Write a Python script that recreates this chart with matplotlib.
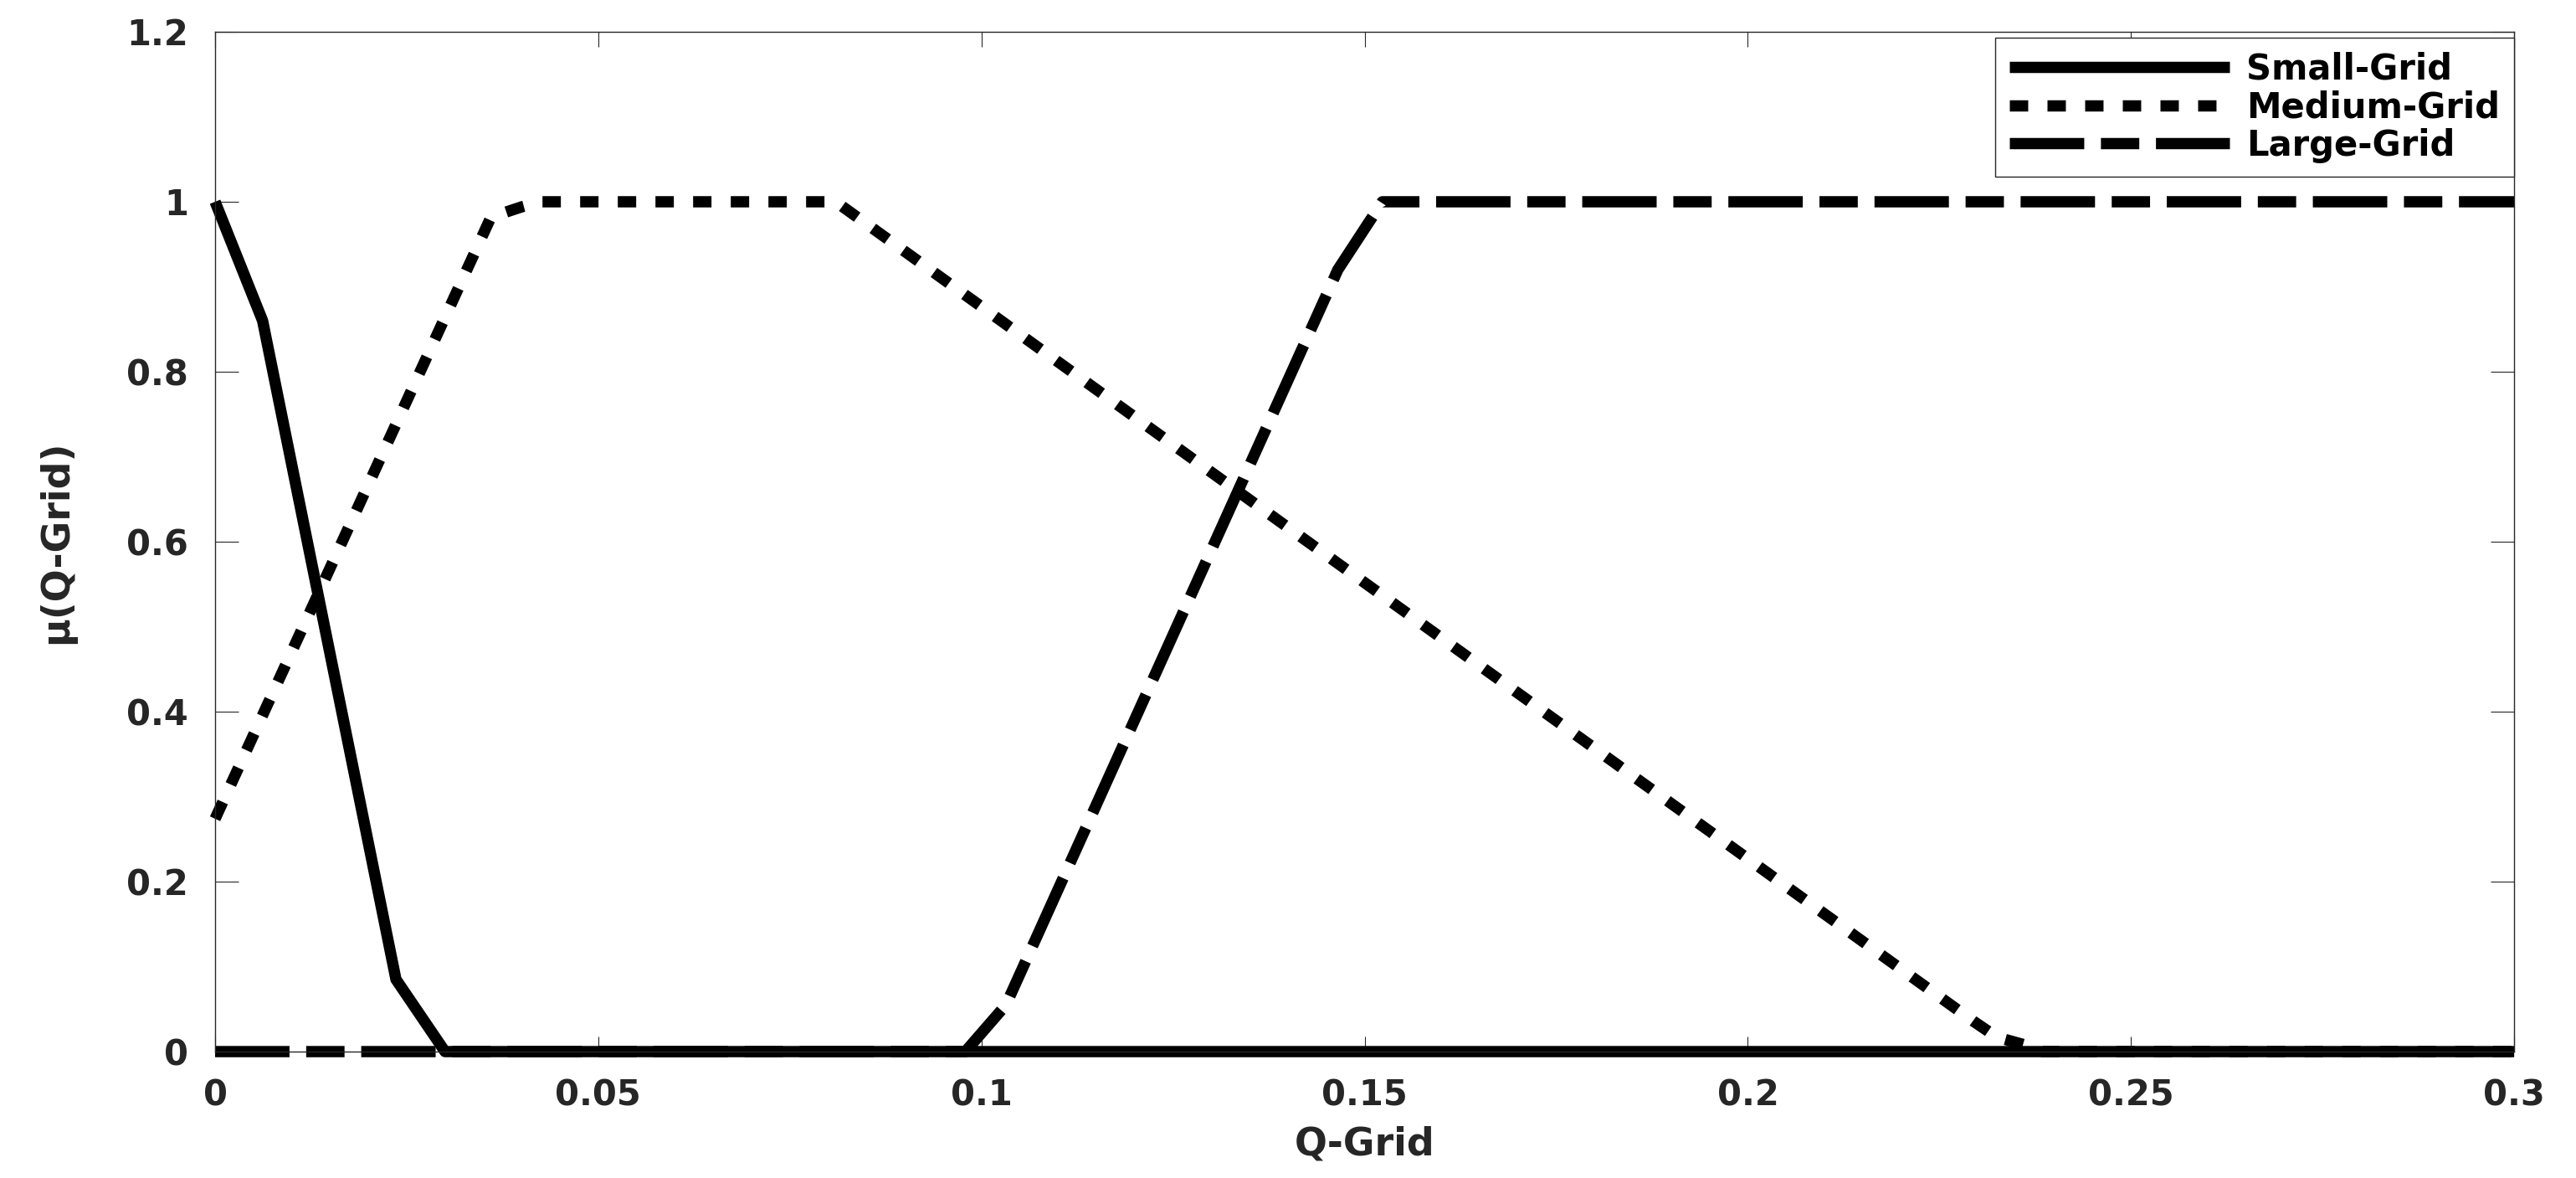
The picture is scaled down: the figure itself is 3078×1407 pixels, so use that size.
import matplotlib
matplotlib.use("Agg")
import matplotlib.pyplot as plt
from matplotlib.ticker import FormatStrFormatter

# membership curves
small_x = [0, 0.0062, 0.0236, 0.0300, 0.3]
small_y = [1, 0.86, 0.085, 0, 0]

medium_x = [0, 0.036, 0.040, 0.0425, 0.081, 0.2294, 0.2325, 0.2369, 0.2385, 0.3]
medium_y = [0.274, 0.982, 0.994, 1, 1, 0.036, 0.017, 0.006, 0, 0]

large_x = [0, 0.0979, 0.1032, 0.1465, 0.1523, 0.3]
large_y = [0, 0, 0.055, 0.92, 1, 1]

labels = ["Small-Grid", "Medium-Grid", "Large-Grid"]
xticks = [0, 0.05, 0.1, 0.15, 0.2, 0.25, 0.3]
yticks = [0, 0.2, 0.4, 0.6, 0.8, 1, 1.2]

dark = "#262626"
plt.rcParams["font.family"] = ["DejaVu Sans"]
plt.rcParams["font.weight"] = "bold"

fig = plt.figure(figsize=(30.78, 14.07), dpi=100)
ax = fig.add_axes([0.0835, 0.1073, 0.8925, 0.8657])

lw = 9.7
ax.plot(small_x, small_y, color="black", lw=lw, ls="-", clip_on=False,
        solid_capstyle="butt", solid_joinstyle="round", label=labels[0])
ax.plot(medium_x, medium_y, color="black", lw=lw, ls=(0, (1.63, 1.71)),
        clip_on=False, dash_capstyle="butt", label=labels[1])
ax.plot(large_x, large_y, color="black", lw=lw, ls=(0, (6.6, 1.48, 3.4, 1.48)),
        clip_on=False, dash_capstyle="butt", label=labels[2])

ax.set_xlim(0, 0.3)
ax.set_ylim(0, 1.2)
ax.set_xticks(xticks)
ax.set_yticks(yticks)
ax.xaxis.set_major_formatter(FormatStrFormatter("%g"))
ax.yaxis.set_major_formatter(FormatStrFormatter("%g"))

for s in ax.spines.values():
    s.set_color(dark)
    s.set_linewidth(1.0)

ax.tick_params(axis="both", direction="in", top=True, right=True, width=0.8,
               color=dark, labelcolor=dark, labelsize=30, pad=23)
ax.tick_params(axis="y", length=20)
ax.tick_params(axis="x", length=13)

ax.set_xlabel("Q-Grid", fontsize=33, fontweight="bold", color=dark)
ax.set_ylabel("μ(Q-Grid)", fontsize=33, fontweight="bold", color=dark)
ax.xaxis.set_label_coords(0.5, -0.0725)
ax.yaxis.set_label_coords(-0.0608, 0.5)

leg = ax.legend(loc="upper right", bbox_to_anchor=(1.0, 0.994), borderaxespad=0,
                fontsize=30, handlelength=6.3, handletextpad=0.5,
                labelspacing=0.08, borderpad=0.4, fancybox=False, framealpha=1)
leg.get_frame().set_edgecolor(dark)
leg.get_frame().set_linewidth(1.0)

fig.savefig("out.png", dpi=100)
